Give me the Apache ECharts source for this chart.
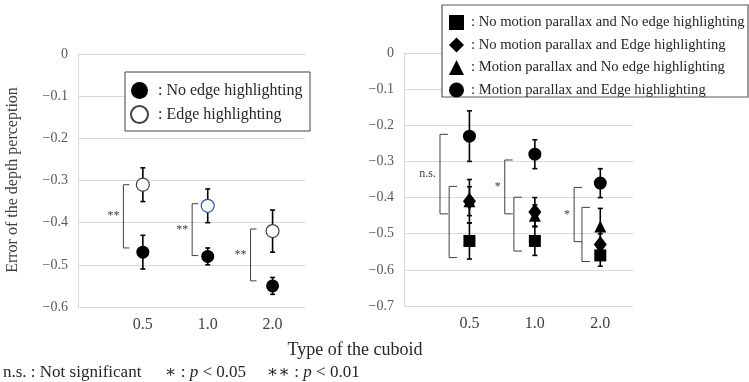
<!DOCTYPE html>
<html>
<head>
<meta charset="utf-8">
<script src="https://cdn.jsdelivr.net/npm/echarts@6/dist/echarts.min.js"></script>
<style>
  html, body { margin: 0; padding: 0; background: #fff; }
  #main { width: 749px; height: 382px; }
</style>
</head>
<body>
<div id="main"></div>
<script>
// cuboid types, drawn at x = 1, 2, 3 on a 0..3.5 value axis
var cats = ['0.5', '1.0', '2.0'];
var xPos = [1, 2, 3];

// left chart
var noEdgeMean = [-0.47, -0.48, -0.55];
var noEdgeErr = [0.04, 0.02, 0.02];
var edgeMean = [-0.31, -0.36, -0.42];
var edgeErr = [0.04, 0.04, 0.05];

// right chart
var noMpNoEhMean = [-0.52, -0.52, -0.56];
var noMpNoEhErr = [0.05, 0.04, 0.03];
var noMpEhMean = [-0.41, -0.44, -0.53];
var noMpEhErr = [0.06, 0.04, 0.03];
var mpNoEhMean = [-0.41, -0.45, -0.48];
var mpNoEhErr = [0.04, 0.03, 0.05];
var mpEhMean = [-0.23, -0.28, -0.36];
var mpEhErr = [0.07, 0.04, 0.04];

// significance brackets: [x, yTop, yBottom]
var leftBrackets = [[0.70, -0.31, -0.46], [1.76, -0.355, -0.478], [2.66, -0.415, -0.538]];
var leftBracketLabels = ['**', '**', '**'];
var rightOuterBrackets = [[0.55, -0.225, -0.445], [1.54, -0.296, -0.445], [2.60, -0.372, -0.522]];
var rightOuterLabels = ['n.s.', '*', '*'];
var rightInnerBrackets = [[0.69, -0.369, -0.566], [1.68, -0.399, -0.548], [2.72, -0.427, -0.577]];

var names = {
  noEdge: 'No edge highlighting',
  edge: 'Edge highlighting',
  noMpNoEh: 'No motion parallax and No edge highlighting',
  noMpEh: 'No motion parallax and Edge highlighting',
  mpNoEh: 'Motion parallax and No edge highlighting',
  mpEh: 'Motion parallax and Edge highlighting'
};

var SERIF = '"Liberation Serif", "DejaVu Serif", serif';
var INK = '#000';

function points(mean) {
  return xPos.map(function (x, i) { return [x, mean[i]]; });
}
function errData(mean, err) {
  return xPos.map(function (x, i) { return [x, mean[i] - err[i], mean[i] + err[i]]; });
}

function renderErrorBar(params, api) {
  var top = api.coord([api.value(0), api.value(2)]);
  var bot = api.coord([api.value(0), api.value(1)]);
  var hw = 2.5;
  var st = { stroke: '#000', lineWidth: 1.6 };
  return {
    type: 'group',
    children: [
      { type: 'line', shape: { x1: top[0], y1: top[1], x2: bot[0], y2: bot[1] }, style: st },
      { type: 'line', shape: { x1: top[0] - hw, y1: top[1], x2: top[0] + hw, y2: top[1] }, style: st },
      { type: 'line', shape: { x1: bot[0] - hw, y1: bot[1], x2: bot[0] + hw, y2: bot[1] }, style: st }
    ]
  };
}

function bracketRenderer(labels, tick) {
  return function (params, api) {
    var p1 = api.coord([api.value(0), api.value(1)]);
    var p2 = api.coord([api.value(0), api.value(2)]);
    var children = [{
      type: 'polyline',
      shape: { points: [[p1[0] + tick, p1[1]], [p1[0], p1[1]], [p2[0], p2[1]], [p2[0] + tick, p2[1]]] },
      style: { stroke: '#404040', lineWidth: 1, fill: null }
    }];
    var lab = labels ? labels[params.dataIndex] : '';
    if (lab) {
      children.push({
        type: 'text',
        style: {
          text: lab, x: p1[0] - 4, y: (p1[1] + p2[1]) / 2,
          align: 'right', verticalAlign: 'middle',
          font: '12px ' + SERIF, fill: '#404040'
        }
      });
    }
    return { type: 'group', children: children };
  };
}

function errSeries(idx, mean, err) {
  return {
    type: 'custom', xAxisIndex: idx, yAxisIndex: idx, z: 1,
    renderItem: renderErrorBar, data: errData(mean, err),
    encode: { x: 0, y: [1, 2] }, silent: true
  };
}
function bracketSeries(idx, data, labels, tick) {
  return {
    type: 'custom', xAxisIndex: idx, yAxisIndex: idx, z: 1,
    renderItem: bracketRenderer(labels, tick), data: data,
    encode: { x: 0, y: [1, 2] }, silent: true
  };
}
function dotSeries(idx, name, mean, symbol, size, style) {
  return {
    type: 'scatter', name: name, xAxisIndex: idx, yAxisIndex: idx, z: 3,
    symbol: symbol, symbolSize: size, data: points(mean),
    itemStyle: style || { color: INK, opacity: 1 }
  };
}

function yLabel(v) {
  if (Math.abs(v) < 1e-9) return '0';
  return '\u2212' + Math.abs(v).toFixed(1);
}
function xLabel(v) {
  var i = xPos.indexOf(v);
  return i >= 0 ? cats[i] : '';
}

function axisPair(min) {
  return {
    x: {
      type: 'value', min: 0, max: 3.5, interval: 1,
      axisLine: { show: true, lineStyle: { color: '#d9d9d9' } },
      axisTick: { show: false },
      splitLine: { show: false },
      axisLabel: { formatter: xLabel, color: '#404040', fontFamily: SERIF, fontSize: 16, margin: 10 }
    },
    y: {
      type: 'value', min: min, max: 0, interval: 0.1,
      axisLine: { show: true, lineStyle: { color: '#d9d9d9' } },
      axisTick: { show: false },
      splitLine: { lineStyle: { color: '#d9d9d9' } },
      axisLabel: { formatter: yLabel, color: '#595959', fontFamily: SERIF, fontSize: 14, margin: 10 }
    }
  };
}

var chart = echarts.init(document.getElementById('main'), null, { renderer: 'canvas' });

function setOption(chart) {
  var a = axisPair(-0.6);
  var b = axisPair(-0.7);
  var openStyle = { color: '#fff', borderColor: '#404040', borderWidth: 1.2, opacity: 1 };
  var edgePts = points(edgeMean);
  edgePts[1] = { value: edgePts[1], itemStyle: { borderColor: '#2f5597' } };
  var rich = {
    s: { font: '17px ' + SERIF, fill: '#262626' },
    p: { font: 'italic 17px ' + SERIF, fill: '#262626' }
  };

  var option = {
    animation: false,
    backgroundColor: '#fff',
    grid: [
      { left: 78, right: 444, top: 54, bottom: 75 },
      { left: 404, right: 116, top: 53, bottom: 76 }
    ],
    xAxis: [Object.assign({ gridIndex: 0 }, a.x), Object.assign({ gridIndex: 1 }, b.x)],
    yAxis: [Object.assign({ gridIndex: 0 }, a.y), Object.assign({ gridIndex: 1 }, b.y)],
    legend: [
      {
        left: 125, top: 72, orient: 'vertical', z: 6,
        padding: [10, 9, 8, 5], itemGap: 6, itemWidth: 17, itemHeight: 17,
        data: [{ name: names.noEdge, icon: 'circle' }, { name: names.edge, icon: 'circle' }],
        formatter: function (n) { return ': ' + n; },
        textStyle: { fontFamily: SERIF, fontSize: 16, color: '#262626', padding: [0, 0, 0, 5], lineHeight: 17 },
        selectedMode: false
      },
      {
        left: 442, top: 5, orient: 'vertical', z: 6,
        padding: [10, 6, 0, 7], itemGap: 7.5, itemWidth: 15, itemHeight: 15,
        data: [
          { name: names.noMpNoEh, icon: 'rect' },
          { name: names.noMpEh, icon: 'diamond' },
          { name: names.mpNoEh, icon: 'triangle' },
          { name: names.mpEh, icon: 'circle' }
        ],
        formatter: function (n) { return ': ' + n; },
        textStyle: { fontFamily: SERIF, fontSize: 14.6, color: '#262626', padding: [0, 0, 0, 2], lineHeight: 15 },
        selectedMode: false
      }
    ],
    graphic: [
      { type: 'rect', z: 5, shape: { x: 125, y: 72, width: 185, height: 59 }, style: { fill: '#fff', stroke: '#404040', lineWidth: 1 } },
      { type: 'rect', z: 5, shape: { x: 442, y: 5, width: 306, height: 92 }, style: { fill: '#fff', stroke: '#595959', lineWidth: 1.2 } },
      {
        type: 'text', x: 13, y: 180, rotation: Math.PI / 2,
        style: { text: 'Error of the depth perception', font: '16px ' + SERIF, fill: '#404040', align: 'center', verticalAlign: 'middle' }
      },
      {
        type: 'text', x: 355, y: 350,
        style: { text: 'Type of the cuboid', font: '18px ' + SERIF, fill: '#262626', align: 'center', verticalAlign: 'middle' }
      },
      {
        type: 'text', x: 3, y: 373,
        style: { text: 'n.s. : Not significant', font: '17px ' + SERIF, fill: '#262626', verticalAlign: 'middle' }
      },
      {
        type: 'text', x: 165, y: 373,
        style: { text: '{s|\u2217 : }{p|p}{s| < 0.05}', verticalAlign: 'middle', rich: rich }
      },
      {
        type: 'text', x: 267, y: 373,
        style: { text: '{s|\u2217\u2217 : }{p|p}{s| < 0.01}', verticalAlign: 'middle', rich: rich }
      }
    ],
    series: [
      // left chart
      bracketSeries(0, leftBrackets, leftBracketLabels, 6),
      errSeries(0, edgeMean, edgeErr),
      errSeries(0, noEdgeMean, noEdgeErr),
      {
        type: 'scatter', name: names.edge, xAxisIndex: 0, yAxisIndex: 0, z: 3,
        symbol: 'circle', symbolSize: 13, data: edgePts, itemStyle: openStyle
      },
      dotSeries(0, names.noEdge, noEdgeMean, 'circle', 13),

      // right chart
      bracketSeries(1, rightOuterBrackets, rightOuterLabels, 8),
      bracketSeries(1, rightInnerBrackets, null, 8),
      errSeries(1, mpNoEhMean, mpNoEhErr),
      errSeries(1, noMpEhMean, noMpEhErr),
      errSeries(1, noMpNoEhMean, noMpNoEhErr),
      errSeries(1, mpEhMean, mpEhErr),
      dotSeries(1, names.mpNoEh, mpNoEhMean, 'triangle', 12),
      dotSeries(1, names.noMpEh, noMpEhMean, 'diamond', [13, 17]),
      dotSeries(1, names.noMpNoEh, noMpNoEhMean, 'rect', 12),
      dotSeries(1, names.mpEh, mpEhMean, 'circle', 13)
    ]
  };
  chart.setOption(option);
}

setOption(chart);
</script>
</body>
</html>
